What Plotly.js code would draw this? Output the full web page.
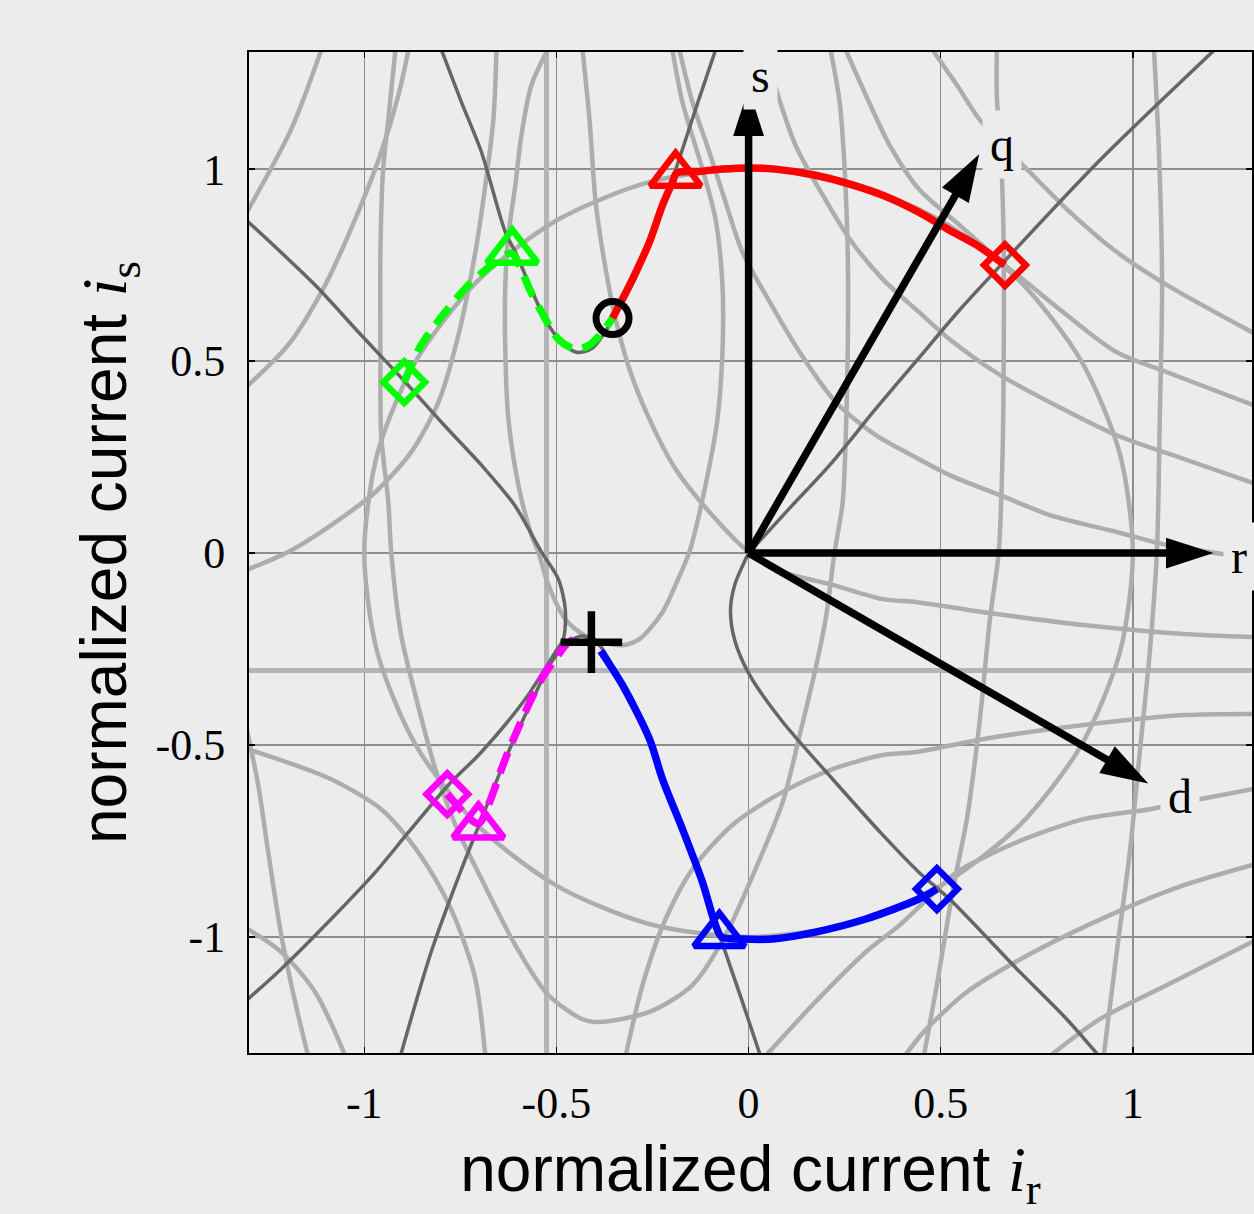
<!DOCTYPE html>
<html><head><meta charset="utf-8">
<script src="https://cdn.plot.ly/plotly-3.0.1.min.js"></script>
<style>html,body{margin:0;padding:0;background:#ececec;}</style>
</head><body><div id="chart" style="width:1254px;height:1214px;"></div>
<script>
// ---------- axis ticks ----------
const tickVals = [-1, -0.5, 0, 0.5, 1];
const tickText = ['-1', '-0.5', '0', '0.5', '1'];

// ---------- straight light reference lines ----------
const vLine_x = [-0.526, -0.526];
const vLine_y = [-1.35, 1.35];
const hLine_x = [-1.35, 1.35];
const hLine_y = [-0.306, -0.306];

// ---------- light gray contour curves ----------
const curveA_x = [-1.112, -1.19, -1.31];
const curveA_y = [1.31, 1.104, 0.88];
const curveB_x = [-0.885, -0.911, -0.956, -1.016, -1.102, -1.198, -1.31];
const curveB_y = [1.31, 1.193, 1.044, 0.888, 0.698, 0.542, 0.43];
const curveC_x = [-0.919, -0.9375, -0.951, -0.958, -0.958, -0.956, -0.9375, -0.93, -0.904, -0.867, -0.815, -0.763, -0.695, -0.607, -0.521, -0.432, -0.388, -0.258, -0.146, -0.06, 0.018, 0.089, 0.133, 0.174, 0.2005, 0.224, 0.245, 0.253, 0.258, 0.258, 0.25, 0.237, 0.2135];
const curveC_y = [1.31, 1.13, 1.0, 0.784, 0.523, 0.307, 0.133, 0.003, -0.214, -0.37, -0.5625, -0.708, -0.849, -1.021, -1.151, -1.214, -1.221, -1.195, -1.125, -0.995, -0.823, -0.648, -0.474, -0.302, -0.172, 0.003, 0.133, 0.307, 0.523, 0.784, 1.0, 1.174, 1.31];
const curveD_x = [-0.656, -0.664, -0.685, -0.711, -0.755, -0.807, -0.878, -0.971, -1.086, -1.198, -1.31];
const curveD_y = [1.31, 1.13, 0.958, 0.784, 0.568, 0.393, 0.263, 0.159, 0.073, 0.003, -0.045];
const circle_x = [1, 0.966, 0.866, 0.707, 0.5, 0.259, 0, -0.259, -0.5, -0.707, -0.866, -0.966, -1, -0.966, -0.866, -0.707, -0.5, -0.259, 0, 0.259, 0.5, 0.707, 0.866, 0.966, 1];
const circle_y = [0, 0.259, 0.5, 0.707, 0.866, 0.966, 1, 0.966, 0.866, 0.707, 0.5, 0.259, 0, -0.259, -0.5, -0.707, -0.866, -0.966, -1, -0.966, -0.866, -0.707, -0.5, -0.259, 0];
const curveF_x = [-0.523, -0.565, -0.591, -0.607, -0.625, -0.633, -0.633, -0.625, -0.599, -0.565, -0.547, -0.521, -0.477, -0.427, -0.375, -0.328, -0.284, -0.224, -0.19, -0.154, -0.112, -0.081, -0.068, -0.068, -0.086, -0.12, -0.172, -0.198];
const curveF_y = [1.31, 1.219, 1.089, 0.958, 0.828, 0.698, 0.523, 0.349, 0.177, 0.047, 0.003, -0.083, -0.172, -0.214, -0.234, -0.24, -0.224, -0.154, -0.083, 0.003, 0.177, 0.349, 0.523, 0.698, 0.87, 1.0, 1.174, 1.31];
const curveG_x = [0.253, 0.305, 0.367, 0.443, 0.549, 0.667, 0.732, 0.828, 0.958, 1.089, 1.32];
const curveG_y = [1.31, 1.193, 1.0625, 0.948, 0.854, 0.75, 0.698, 0.62, 0.523, 0.471, 0.383];
const curveH_x = [-0.432, -0.414, -0.398, -0.372, -0.346, -0.31, -0.258, -0.19, -0.102, 0, 0.089, 0.219, 0.349, 0.4375, 0.612, 0.872, 1.133, 1.32];
const curveH_y = [1.31, 1.13, 0.914, 0.74, 0.609, 0.479, 0.349, 0.219, 0.107, 0.003, -0.049, -0.083, -0.12, -0.128, -0.154, -0.1875, -0.211, -0.219];
const curveI_x = [-0.32, -0.276, -0.216, -0.146, -0.042, 0.089, 0.219, 0.349, 0.4375, 0.612, 0.872, 1.133, 1.32];
const curveI_y = [-1.31, -1.125, -0.953, -0.823, -0.708, -0.622, -0.5625, -0.526, -0.518, -0.484, -0.448, -0.422, -0.419];
const curveJ_x = [0.044, 0.174, 0.305, 0.393, 0.49, 0.542, 0.698, 0.872, 1.044, 1.174, 1.32];
const curveJ_y = [-1.31, -1.169, -1.039, -0.969, -0.878, -0.831, -0.753, -0.693, -0.667, -0.641, -0.613];
const curveK_x = [0.406, 0.456, 0.568, 0.742, 0.958, 1.133, 1.32];
const curveK_y = [-1.31, -1.247, -1.143, -1.039, -0.935, -0.865, -0.81];
const curveL_x = [0.784, 0.914, 1.089, 1.32];
const curveL_y = [-1.31, -1.214, -1.125, -1.008];
const curveM_x = [0.646, 0.646, 0.659, 0.664, 0.664, 0.661, 0.651, 0.628, 0.602, 0.568, 0.534, 0.49, 0.456];
const curveM_y = [1.31, 1.193, 0.984, 0.784, 0.523, 0.263, 0.003, -0.172, -0.432, -0.693, -0.865, -1.125, -1.31];
const curveN_x = [1.055, 1.068, 1.076, 1.07, 1.0625, 1.044, 1.018, 0.992, 0.958, 0.924];
const curveN_y = [1.31, 1.044, 0.698, 0.349, 0.003, -0.258, -0.518, -0.779, -1.039, -1.31];
const curveP_x = [0.479, 0.542, 0.602, 0.724, 0.828, 0.958, 1.089, 1.32];
const curveP_y = [1.31, 1.219, 1.128, 1.0, 0.896, 0.784, 0.698, 0.57];
const curveQ_x = [0.068, 0.122, 0.193, 0.263, 0.349, 0.443, 0.523, 0.654, 0.784, 0.958, 1.133, 1.32];
const curveQ_y = [1.219, 1.0625, 0.932, 0.818, 0.7135, 0.628, 0.557, 0.464, 0.393, 0.307, 0.245, 0.18];
const curveR_x = [-0.18, -0.146, -0.102, -0.06, -0.016, 0.055, 0.133, 0.227, 0.331, 0.443, 0.523, 0.654, 0.784, 0.958, 1.089, 1.32];
const curveR_y = [1.31, 1.174, 1.044, 0.914, 0.784, 0.654, 0.523, 0.393, 0.307, 0.245, 0.203, 0.151, 0.099, 0.055, 0.021, -0.015];
const curveS_x = [-1.31, -1.086, -0.956, -0.885, -0.815, -0.763, -0.711, -0.685];
const curveS_y = [-0.508, -0.589, -0.667, -0.745, -0.849, -0.953, -1.109, -1.31];
const curveT_x = [-1.31, -1.276, -1.25, -1.216, -1.18, -1.146];
const curveT_y = [-0.44, -0.604, -0.779, -0.995, -1.169, -1.31];
const curveU_x = [-1.31, -1.216, -1.128, -1.049];
const curveU_y = [-0.975, -1.039, -1.143, -1.31];

// ---------- dark gray curves ----------
const dark1_x = [-0.799, -0.747, -0.695, -0.633, -0.607, -0.57, -0.531, -0.492, -0.448, -0.406, -0.354, -0.297, -0.245, -0.1875, -0.138, -0.086];
const dark1_y = [1.31, 1.174, 1.044, 0.836, 0.784, 0.698, 0.612, 0.555, 0.523, 0.534, 0.607, 0.711, 0.841, 1.005, 1.156, 1.31];
const dark2_x = [0, 0.107, 0.211, 0.328, 0.443, 0.549, 0.661, 0.914, 1.212];
const dark2_y = [0, 0.117, 0.229, 0.372, 0.508, 0.633, 0.755, 1.023, 1.31];
const dark3_x = [-1.31, -1.128, -1.013, -0.893, -0.792, -0.695, -0.609, -0.539, -0.495, -0.477, -0.482, -0.503, -0.581, -0.695, -0.781, -0.885, -0.971, -1.086, -1.216, -1.31];
const dark3_y = [0.87, 0.698, 0.573, 0.445, 0.333, 0.229, 0.125, 0.003, -0.068, -0.146, -0.224, -0.258, -0.38, -0.518, -0.604, -0.727, -0.831, -0.953, -1.083, -1.168];
const dark4_x = [-0.906, -0.826, -0.747, -0.695, -0.625, -0.565, -0.513, -0.469, -0.432, -0.388, -0.328, -0.258, -0.224, -0.172, -0.12, -0.0755, -0.016, 0.031];
const dark4_y = [-1.31, -1.039, -0.823, -0.693, -0.518, -0.388, -0.284, -0.232, -0.216, -0.24, -0.344, -0.484, -0.589, -0.719, -0.857, -0.995, -1.169, -1.31];
const dark5_x = [0, -0.036, -0.047, -0.036, 0.003, 0.089, 0.219, 0.349, 0.443, 0.523, 0.698, 0.828, 0.912];
const dark5_y = [0, -0.083, -0.148, -0.227, -0.318, -0.44, -0.589, -0.734, -0.831, -0.901, -1.083, -1.214, -1.31];

// ---------- trajectories ----------
const green_x = [-0.896, -0.852, -0.789, -0.729, -0.669, -0.617, -0.591, -0.57, -0.539, -0.495, -0.451, -0.414, -0.38, -0.354];
const green_y = [0.445, 0.542, 0.628, 0.698, 0.75, 0.781, 0.737, 0.6875, 0.628, 0.557, 0.531, 0.542, 0.576, 0.612];
const red_x = [-0.354, -0.302, -0.258, -0.224, -0.198, -0.1875, -0.128, -0.068, 0.003, 0.07, 0.174, 0.263, 0.349, 0.443, 0.523, 0.594, 0.667];
const red_y = [0.612, 0.7135, 0.81, 0.906, 0.966, 0.99, 0.994, 1.0, 1.003, 1.0, 0.984, 0.961, 0.932, 0.888, 0.841, 0.802, 0.75];
const magenta_x = [-0.784, -0.703, -0.677, -0.633, -0.581, -0.539, -0.503, -0.469, -0.435];
const magenta_y = [-0.628, -0.705, -0.656, -0.536, -0.414, -0.328, -0.276, -0.232, -0.219];
const blue_x = [-0.385, -0.328, -0.258, -0.224, -0.172, -0.12, -0.086, -0.07, -0.016, 0.0625, 0.174, 0.305, 0.443, 0.49];
const blue_y = [-0.255, -0.344, -0.484, -0.589, -0.719, -0.857, -0.969, -1.0, -1.005, -1.005, -0.987, -0.953, -0.901, -0.875];

// ---------- markers ----------
const diamond_x = [-0.896, 0.667, -0.784, 0.49];
const diamond_y = [0.445, 0.75, -0.628, -0.875];
const diamond_c = ['#00ff00', '#ff0000', '#ff00ff', '#0000ff'];
const triangle_x = [-0.615, -0.19, -0.703, -0.076];
const triangle_y = [0.785, 0.985, -0.712, -0.995];
const triangle_c = ['#00ff00', '#ff0000', '#ff00ff', '#0000ff'];
const startCircle_x = [-0.354];
const startCircle_y = [0.612];
const cross_x = [-0.409];
const cross_y = [-0.232];

// ---------- coordinate arrows ----------
const arrowNames = ['s', 'q', 'r', 'd'];
const arrowTip_x = [0, 0.6, 1.21, 1.04];
const arrowTip_y = [1.21, 1.039, 0, -0.6];
const label_x = [0.03, 0.66, 1.277, 1.122];
const label_y = [1.245, 1.065, -0.01, -0.635];

const LIGHT = '#adadad', DARK = '#666666';
const traces = [];
function addLine(x, y, color, width, dash, shape) {
  traces.push({type: 'scatter', mode: 'lines', x: x, y: y, hoverinfo: 'skip', showlegend: false,
    line: {color: color, width: width, dash: dash || 'solid', shape: shape || 'spline', smoothing: 0.8}});
}
addLine(vLine_x, vLine_y, '#b4b4b4', 5, 'solid', 'linear');
addLine(hLine_x, hLine_y, '#b4b4b4', 5, 'solid', 'linear');
[[curveA_x, curveA_y], [curveB_x, curveB_y], [curveC_x, curveC_y], [curveD_x, curveD_y],
 [circle_x, circle_y], [curveF_x, curveF_y], [curveG_x, curveG_y], [curveH_x, curveH_y],
 [curveI_x, curveI_y], [curveJ_x, curveJ_y], [curveK_x, curveK_y], [curveL_x, curveL_y],
 [curveM_x, curveM_y], [curveN_x, curveN_y], [curveP_x, curveP_y], [curveQ_x, curveQ_y],
 [curveR_x, curveR_y], [curveS_x, curveS_y], [curveT_x, curveT_y], [curveU_x, curveU_y]
].forEach(function (c) { addLine(c[0], c[1], LIGHT, 4.5); });
[[dark1_x, dark1_y], [dark2_x, dark2_y], [dark3_x, dark3_y], [dark4_x, dark4_y], [dark5_x, dark5_y]
].forEach(function (c) { addLine(c[0], c[1], DARK, 3.5); });

addLine(green_x, green_y, '#00ff00', 7.5, '22px,11px');
addLine(magenta_x, magenta_y, '#ff00ff', 7.5, '22px,11px');
addLine(red_x, red_y, '#ff0000', 7.5);
addLine(blue_x, blue_y, '#0000ff', 7.5);

traces.push({type: 'scatter', mode: 'markers', x: diamond_x, y: diamond_y, hoverinfo: 'skip', showlegend: false,
  marker: {symbol: 'diamond-open', size: 32, color: diamond_c, line: {color: diamond_c, width: 6.5}}});
traces.push({type: 'scatter', mode: 'markers', x: triangle_x, y: triangle_y, hoverinfo: 'skip', showlegend: false,
  marker: {symbol: 'triangle-up-open', size: 44, color: triangle_c, line: {color: triangle_c, width: 6.5}}});
traces.push({type: 'scatter', mode: 'markers', x: startCircle_x, y: startCircle_y, hoverinfo: 'skip', showlegend: false,
  marker: {symbol: 'circle-open', size: 33, color: '#000', line: {color: '#000', width: 7}}});
traces.push({type: 'scatter', mode: 'markers', x: cross_x, y: cross_y, hoverinfo: 'skip', showlegend: false,
  marker: {symbol: 'cross-thin-open', size: 44, color: '#000', line: {color: '#000', width: 7.5}}});

// arrows: shaft + head
const annotations = [];
arrowNames.forEach(function (name, i) {
  const tx = arrowTip_x[i], ty = arrowTip_y[i];
  traces.push({type: 'scatter', mode: 'lines', x: [0, tx * 0.94], y: [0, ty * 0.94], hoverinfo: 'skip', showlegend: false,
    line: {color: '#000', width: 7.5}});
  const ang = 90 - Math.atan2(ty, tx) * 180 / Math.PI;
  traces.push({type: 'scatter', mode: 'markers', x: [tx], y: [ty], hoverinfo: 'skip', showlegend: false, cliponaxis: false,
    marker: {symbol: 'arrow', size: 50, angle: ang, color: '#000', line: {width: 0}}});
  annotations.push({x: label_x[i], y: label_y[i], xref: 'x', yref: 'y', text: name, showarrow: false,
    font: {family: 'Liberation Serif', size: 48, color: '#000'}, bgcolor: '#ececec', borderpad: 7});
});

const axisCommon = {
  tickvals: tickVals, ticktext: tickText, ticks: 'inside', ticklen: 6, tickwidth: 1.5, tickcolor: '#000',
  showline: true, linecolor: '#000', linewidth: 2, mirror: 'ticks',
  showgrid: true, gridcolor: '#8e8e8e', gridwidth: 1.5, zeroline: false,
  tickfont: {family: 'Liberation Serif', size: 44, color: '#000'}, fixedrange: true
};
const layout = {
  width: 1254, height: 1214,
  paper_bgcolor: '#ececec', plot_bgcolor: '#ececec',
  margin: {l: 249, r: 2, t: 52, b: 161},
  showlegend: false,
  xaxis: Object.assign({}, axisCommon, {
    range: [-1.3, 1.31], ticklabelstandoff: 10,
    title: {text: 'normalized current <span style="font-family:Liberation Serif"><i>i</i><sub>r</sub></span>',
      font: {family: 'Liberation Sans', size: 64, color: '#000'}, standoff: 28}
  }),
  yaxis: Object.assign({}, axisCommon, {
    range: [-1.302, 1.305], ticklabelstandoff: 13,
    title: {text: 'normalized current <span style="font-family:Liberation Serif"><i>i</i><sub>s</sub></span>',
      font: {family: 'Liberation Sans', size: 64, color: '#000'}, standoff: 8}
  }),
  annotations: annotations
};
Plotly.newPlot('chart', traces, layout, {staticPlot: true, displayModeBar: false});
</script>
</body></html>
